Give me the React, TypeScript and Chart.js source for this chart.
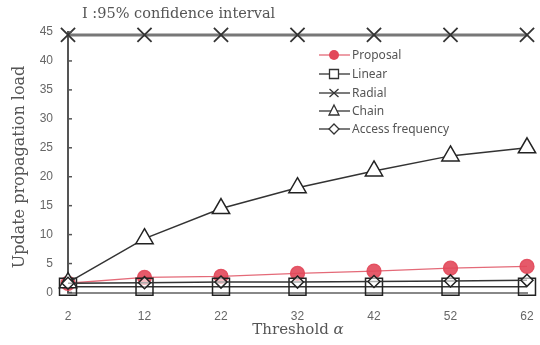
import React, { useEffect, useRef } from "react";
import { Chart, registerables } from "chart.js";
Chart.register(...registerables);

const categories = ["2", "12", "22", "32", "42", "52", "62"];
const proposal = [1.6, 2.6, 2.8, 3.3, 3.7, 4.2, 4.5];
const linear = [1.0, 1.0, 1.0, 1.0, 1.0, 1.0, 1.0];
const radial = [44.5, 44.5, 44.5, 44.5, 44.5, 44.5, 44.5];
const chain = [1.7, 9.3, 14.5, 18.1, 21.0, 23.6, 25.0];
const accessFrequency = [1.6, 1.7, 1.8, 1.8, 1.9, 2.0, 2.1];
const seriesNames = ["Proposal", "Linear", "Radial", "Chain", "Access frequency"];
const titleText = "I :95% confidence interval";
const xTitle = "Threshold ";
const yTitle = "Update propagation load";

const RED = "#e2485a";
const DARK = "#333333";

function drawMarker(ctx: CanvasRenderingContext2D, kind: string, x: number, y: number) {
  ctx.save();
  ctx.beginPath();
  if (kind === "circle") {
    ctx.fillStyle = RED;
    ctx.arc(x, y, 5, 0, Math.PI * 2);
    ctx.fill();
  } else if (kind === "rect") {
    ctx.strokeStyle = DARK;
    ctx.lineWidth = 1.3;
    ctx.fillStyle = "#fff";
    ctx.rect(x - 4.5, y - 4.5, 9, 9);
    ctx.fill();
    ctx.stroke();
  } else if (kind === "crossRot") {
    ctx.strokeStyle = DARK;
    ctx.lineWidth = 1.3;
    ctx.moveTo(x - 4.5, y - 4);
    ctx.lineTo(x + 4.5, y + 4);
    ctx.moveTo(x - 4.5, y + 4);
    ctx.lineTo(x + 4.5, y - 4);
    ctx.stroke();
  } else if (kind === "triangle") {
    ctx.strokeStyle = DARK;
    ctx.lineWidth = 1.3;
    ctx.fillStyle = "#fff";
    ctx.moveTo(x, y - 6);
    ctx.lineTo(x + 5, y + 4);
    ctx.lineTo(x - 5, y + 4);
    ctx.closePath();
    ctx.fill();
    ctx.stroke();
  } else if (kind === "rectRot") {
    ctx.strokeStyle = DARK;
    ctx.lineWidth = 1.3;
    ctx.fillStyle = "#fff";
    ctx.moveTo(x, y - 5);
    ctx.lineTo(x + 5, y);
    ctx.lineTo(x, y + 5);
    ctx.lineTo(x - 5, y);
    ctx.closePath();
    ctx.fill();
    ctx.stroke();
  }
  ctx.restore();
}

const decorPlugin = {
  id: "decor",
  afterDraw(chart: any) {
    const ctx: CanvasRenderingContext2D = chart.ctx;
    const y = chart.scales.y;
    const area = chart.chartArea;
    ctx.save();
    // inward y ticks
    ctx.strokeStyle = "#555";
    ctx.lineWidth = 1.5;
    y.ticks.forEach((t: any) => {
      const py = y.getPixelForValue(t.value);
      ctx.beginPath();
      ctx.moveTo(area.left, py);
      ctx.lineTo(area.left + 4, py);
      ctx.stroke();
    });
    // title
    ctx.fillStyle = "#555";
    ctx.font = "14.5px 'DejaVu Serif', 'Liberation Serif', serif";
    ctx.textBaseline = "middle";
    ctx.textAlign = "left";
    ctx.fillText(titleText, 82, 14);
    // x title
    ctx.font = "15px 'DejaVu Serif', 'Liberation Serif', serif";
    const w1 = ctx.measureText(xTitle).width;
    ctx.font = "italic 15px 'DejaVu Serif', 'Liberation Serif', serif";
    const w2 = ctx.measureText("α").width;
    const sx = 298 - (w1 + w2) / 2;
    ctx.font = "15px 'DejaVu Serif', 'Liberation Serif', serif";
    ctx.fillText(xTitle, sx, 330);
    ctx.font = "italic 15px 'DejaVu Serif', 'Liberation Serif', serif";
    ctx.fillText("α", sx + w1, 330);
    // y title
    ctx.save();
    ctx.translate(20, 167);
    ctx.rotate(-Math.PI / 2);
    ctx.textAlign = "center";
    ctx.font = "16px 'DejaVu Serif', 'Liberation Serif', serif";
    ctx.fillText(yTitle, 0, 0);
    ctx.restore();
    // legend
    const kinds = ["circle", "rect", "crossRot", "triangle", "rectRot"];
    const ys = [55, 74, 93, 111, 129];
    ctx.font = "12px 'Noto Sans', 'Open Sans', sans-serif";
    ctx.textAlign = "left";
    seriesNames.forEach((name, i) => {
      ctx.beginPath();
      ctx.strokeStyle = i === 0 ? "#e46a78" : DARK;
      ctx.lineWidth = 1.3;
      ctx.moveTo(319, ys[i]);
      ctx.lineTo(350, ys[i]);
      ctx.stroke();
      drawMarker(ctx, kinds[i], 334, ys[i]);
      ctx.fillStyle = "#555";
      ctx.fillText(name, 352, ys[i] + 0.5);
    });
    ctx.restore();
  },
};

export default function App() {
  const ref = useRef<HTMLCanvasElement | null>(null);
  useEffect(() => {
    document.body.style.margin = "0";
    if (!ref.current) return;
    const chart = new Chart(ref.current, {
      type: "line",
      data: {
        labels: categories,
        datasets: [
          {
            label: seriesNames[0],
            data: proposal,
            borderColor: "#e46a78",
            borderWidth: 1.3,
            pointStyle: "circle",
            pointRadius: 7,
            pointBackgroundColor: "rgba(226,72,90,0.9)",
            pointBorderColor: "rgba(226,72,90,0.9)",
            order: 10,
            clip: false,
          },
          {
            label: seriesNames[1],
            data: linear,
            borderColor: DARK,
            borderWidth: 1.5,
            pointStyle: "rect",
            pointRadius: 12,
            pointBackgroundColor: "rgba(255,255,255,0)",
            pointBorderColor: "#222",
            pointBorderWidth: 1.5,
            order: 4,
            clip: false,
          },
          {
            label: seriesNames[2],
            data: radial,
            borderColor: "#777",
            borderWidth: 3,
            pointStyle: "crossRot",
            pointRadius: 10,
            pointBorderColor: "#333",
            pointBorderWidth: 1.8,
            order: 3,
            clip: false,
          },
          {
            label: seriesNames[3],
            data: chain,
            borderColor: DARK,
            borderWidth: 1.5,
            pointStyle: "triangle",
            pointRadius: 10,
            pointBackgroundColor: "#fff",
            pointBorderColor: "#222",
            pointBorderWidth: 1.5,
            order: 2,
            clip: false,
          },
          {
            label: seriesNames[4],
            data: accessFrequency,
            borderColor: DARK,
            borderWidth: 1.5,
            pointStyle: "rectRot",
            pointRadius: 6,
            pointBackgroundColor: "rgba(255,255,255,0.6)",
            pointBorderColor: "#222",
            pointBorderWidth: 1.5,
            order: 1,
            clip: false,
          },
        ],
      },
      options: {
        animation: false,
        responsive: true,
        maintainAspectRatio: false,
        layout: { autoPadding: false, padding: { left: 0, right: 13, top: 32, bottom: 0 } },
        plugins: { legend: { display: false }, tooltip: { enabled: false }, title: { display: false } },
        scales: {
          x: {
            type: "category",
            offset: false,
            grid: { display: false, drawTicks: false },
            border: { display: true, color: "#888", width: 2 },
            ticks: {
              color: "#666",
              padding: 17,
              font: { family: "'Liberation Sans Narrow', 'Liberation Sans', sans-serif", size: 12 },
              maxRotation: 0,
            },
            afterFit: (s: any) => {
              s.height = 52.5;
              s.paddingLeft = 0;
              s.paddingRight = 0;
            },
          },
          y: {
            min: 0,
            max: 45,
            grid: { display: false, drawTicks: false },
            border: { display: true, color: "#555", width: 2 },
            ticks: {
              stepSize: 5,
              color: "#666",
              padding: 15,
              font: { family: "'Liberation Sans Narrow', 'Liberation Sans', sans-serif", size: 12 },
            },
            afterFit: (s: any) => {
              s.width = 68;
              s.paddingTop = 0;
              s.paddingBottom = 0;
            },
          },
        },
      },
      plugins: [decorPlugin],
    });
    return () => chart.destroy();
  }, []);
  return (
    <div style={{ position: "relative", width: 540, height: 345 }}>
      <canvas ref={ref} />
    </div>
  );
}
